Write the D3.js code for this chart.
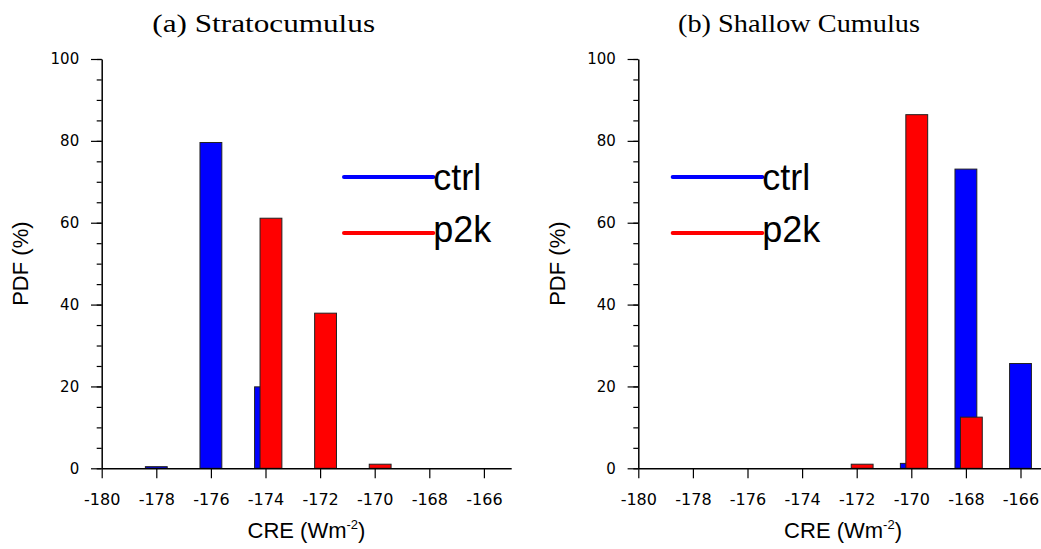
<!DOCTYPE html>
<html>
<head>
<meta charset="utf-8">
<script src="https://cdn.jsdelivr.net/npm/d3@7"></script>
<style>
  html, body { margin: 0; padding: 0; background: #fff; }
  svg { display: block; }
</style>
</head>
<body>
<svg id="chart" width="1041" height="549"></svg>
<script>
// ---------- data ----------
const binCenters = [-178, -176, -174, -172, -170, -168, -166];
const scCtrl = [0.4, 79.6, 19.9, 0, 0, 0, 0];
const scP2k  = [0, 0, 61.1, 37.9, 1.0, 0, 0];
const shCtrl = [0, 0, 0, 0, 1.2, 73.1, 25.6];
const shP2k  = [0, 0, 0, 1.0, 86.4, 12.5, 0];
const xTickValues = [-180, -178, -176, -174, -172, -170, -168, -166];
const yMajorTicks = [0, 20, 40, 60, 80, 100];
const yMinorTicks = [0, 5, 10, 15, 20, 25, 30, 35, 40, 45, 50, 55, 60, 65, 70, 75, 80, 85, 90, 95, 100];
const seriesNames = ["ctrl", "p2k"];
const seriesColors = ["#0000ff", "#ff0000"];
const panelTitles = ["(a) Stratocumulus", "(b) Shallow Cumulus"];

// ---------- layout ----------
const svg = d3.select("#chart");
const unitPx = 27.3;
const y0 = 468.3, y100 = 59;
const panels = [
  { ox: 101.7, ctrl: scCtrl, p2k: scP2k, title: panelTitles[0], titleX: 263.7, titleLen: 222.7,
    ylabX: 28, legX0: 344, legX1: 433.3 },
  { ox: 638.3, ctrl: shCtrl, p2k: shP2k, title: panelTitles[1], titleX: 799, titleLen: 242,
    ylabX: 564.6, legX0: 672.7, legX1: 762.3 }
];

const y = d3.scaleLinear().domain([0, 100]).range([y0, y100]);
const barW = 0.8, p2kShift = 0.2;

panels.forEach(p => {
  const x = d3.scaleLinear().domain([-180, -165]).range([p.ox, p.ox + 15 * unitPx]);
  const g = svg.append("g");

  // bars: ctrl first, p2k on top
  [p.ctrl, p.p2k].forEach((vals, si) => {
    const shift = si === 0 ? 0 : p2kShift;
    const data = binCenters.map((c, i) => ({ c: c + shift, v: vals[i] })).filter(d => d.v > 0);
    g.selectAll(null).data(data).enter().append("rect")
      .attr("x", d => x(d.c - barW / 2))
      .attr("width", d => x(d.c + barW / 2) - x(d.c - barW / 2))
      .attr("y", d => y(d.v))
      .attr("height", d => y(0) - y(d.v))
      .attr("fill", seriesColors[si])
      .attr("stroke", "#222")
      .attr("stroke-width", 1);
  });

  // y axis minor ticks
  const yMinor = d3.axisLeft(y).tickValues(yMinorTicks).tickSize(5).tickSizeOuter(0).tickFormat("");
  g.append("g").attr("transform", `translate(${p.ox},0)`).call(yMinor)
    .call(s => s.select(".domain").remove())
    .selectAll("line").attr("stroke", "#000").attr("stroke-width", 1.2);

  // y axis major
  const yMajor = d3.axisLeft(y).tickValues(yMajorTicks).tickSize(10.7).tickSizeOuter(0)
    .tickPadding(11.8).tickFormat(d => String(d));
  const ya = g.append("g").attr("transform", `translate(${p.ox},0)`).call(yMajor);
  ya.select(".domain").attr("stroke", "#000").attr("stroke-width", 1.5);
  ya.selectAll("line").attr("stroke", "#000").attr("stroke-width", 1.2);
  ya.selectAll("text").attr("font-family", "DejaVu Sans").attr("font-size", 15).attr("fill", "#000");

  // x axis
  const xAxis = d3.axisBottom(x).tickValues(xTickValues).tickSize(10).tickSizeOuter(0)
    .tickPadding(15.3).tickFormat(d => String(d));
  const xa = g.append("g").attr("transform", `translate(0,${y0})`).call(xAxis);
  xa.select(".domain").attr("stroke", "#000").attr("stroke-width", 1.5);
  xa.selectAll("line").attr("stroke", "#000").attr("stroke-width", 1.2);
  xa.selectAll("text").attr("font-family", "DejaVu Sans").attr("font-size", 16).attr("fill", "#000");

  // title
  g.append("text")
    .attr("x", p.titleX).attr("y", 31.5)
    .attr("text-anchor", "middle")
    .attr("font-family", "Liberation Serif").attr("font-size", 26)
    .attr("textLength", p.titleLen).attr("lengthAdjust", "spacingAndGlyphs")
    .text(p.title);

  // x label, centred on the x axis
  const xr = x.range();
  const xl = g.append("text")
    .attr("x", (xr[0] + xr[1]) / 2).attr("y", 538)
    .attr("text-anchor", "middle")
    .attr("font-family", "Liberation Sans").attr("font-size", 22);
  xl.append("tspan").text("CRE (Wm");
  xl.append("tspan").attr("font-size", 13).attr("dy", -9).text("-2");
  xl.append("tspan").attr("dy", 9).text(")");

  // y label
  g.append("text")
    .attr("transform", `translate(${p.ylabX},${(y0 + y100) / 2}) rotate(-90)`)
    .attr("text-anchor", "middle")
    .attr("font-family", "Liberation Sans").attr("font-size", 22)
    .text("PDF (%)");

  // legend
  const legY = [177, 233];
  const legBase = [190, 242];
  seriesNames.forEach((name, i) => {
    g.append("line")
      .attr("x1", p.legX0).attr("x2", p.legX1)
      .attr("y1", legY[i]).attr("y2", legY[i])
      .attr("stroke", seriesColors[i]).attr("stroke-width", 4)
      .attr("stroke-linecap", "round");
    g.append("text")
      .attr("x", p.legX1).attr("y", legBase[i])
      .attr("font-family", "Liberation Sans").attr("font-size", 36)
      .attr("fill", "#000")
      .text(name);
  });
});
</script>
</body>
</html>
